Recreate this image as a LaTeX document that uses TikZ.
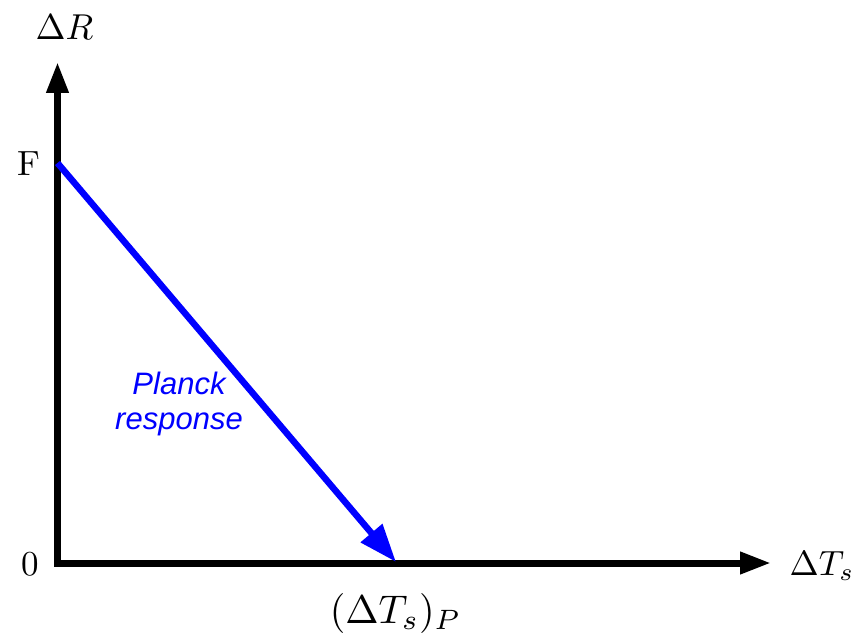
\documentclass[tikz,border=0pt]{standalone}
\usepackage{fontspec}
\newfontfamily\labelsans{Liberation Sans}
\usetikzlibrary{arrows.meta}
\begin{document}
\begin{tikzpicture}[x=1pt,y=-1pt,
  axis/.style={line width=7pt, line join=miter, -{Triangle[length=31pt,width=21pt]}},
  planck/.style={draw=blue, line width=6.5pt, -{Triangle[length=38pt,width=27pt]}},
  lab/.style={inner sep=0pt, anchor=base west},
  ptext/.style={inner sep=0pt, text=blue, align=center, font=\labelsans\itshape\fontsize{31}{35}\selectfont}]
\useasboundingbox (0,0) rectangle (857,639);
\coordinate (top) at (57.5,62);
\coordinate (orig) at (57.5,563);
\coordinate (right) at (771,563);
\coordinate (F) at (57.5,163);
\coordinate (P) at (396,562);
\draw[axis] (orig) -- (top);
\draw[axis] (orig) -- (right);
\draw[line width=7pt, line join=miter] (57.5,540) -- (orig) -- (80,563);
\draw[planck] (F) -- (P);
\node[lab, scale=3.6] (lR) at (35,40) {$\Delta R$};
\node[lab, scale=3.5] (lF) at (17,176) {F};
\node[lab, scale=3.5] (l0) at (21,575) {0};
\node[lab, scale=3.5] (lT) at (789,575) {$\Delta T_s$};
\node[lab, scale=4.0] (lTP) at (329,623) {$(\Delta T_s)_P$};
\node[ptext] (pr) at (179,404) {Planck\\response};
\end{tikzpicture}
\end{document}
